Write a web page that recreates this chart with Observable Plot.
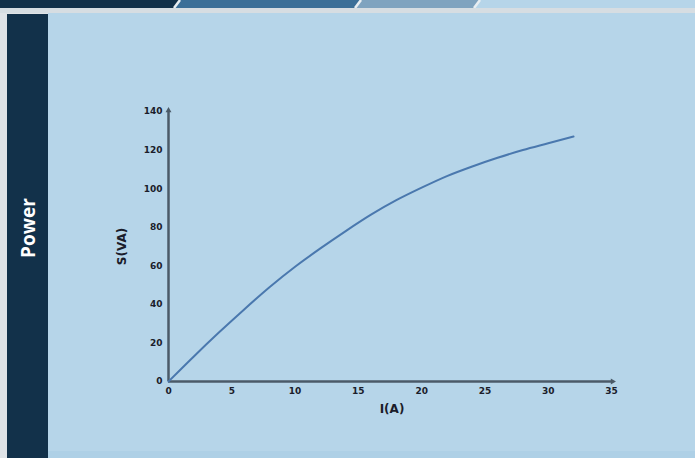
<!DOCTYPE html>
<html>
<head>
<meta charset="utf-8">
<script src="https://cdn.jsdelivr.net/npm/d3@7"></script>
<script src="https://cdn.jsdelivr.net/npm/@observablehq/plot@0.6"></script>
<style>
  html, body { margin: 0; padding: 0; }
  body { width: 695px; height: 458px; overflow: hidden; position: relative; background: #dfe3e7; font-family: "Open Sans", sans-serif; }
  #banner { position: absolute; left: 0; top: 0; width: 695px; height: 8px; }
  #strip { position: absolute; left: 0; top: 8px; width: 695px; height: 5px; background: #d6dde2; }
  #panel { position: absolute; left: 48px; top: 13px; width: 647px; height: 445px; background: #b6d5e9; }
  #bottomband { position: absolute; left: 48px; top: 451px; width: 647px; height: 7px; background: #aed0e6; }
  #sidebar { position: absolute; left: 7px; top: 14px; width: 41px; height: 444px; background: #12314a; }
  #sidebar span { position: absolute; left: 50%; top: 214px; transform: translate(-50%, -50%) rotate(-90deg); color: #ffffff; font: 700 19px "Open Sans", sans-serif; white-space: nowrap; }
  #chart { position: absolute; left: 0; top: 0; }
</style>
</head>
<body>
<svg id="banner" width="695" height="8">
  <rect x="0" y="0" width="695" height="8" fill="#b6d5e9"/>
  <polygon points="0,0 480,0 474,8 0,8" fill="#7fa3bf"/>
  <polygon points="0,0 361,0 355,8 0,8" fill="#3b6f98"/>
  <polygon points="0,0 180,0 174,8 0,8" fill="#12314a"/>
  <line x1="180" y1="0" x2="174" y2="8" stroke="#e8eef2" stroke-width="2.5"/>
  <line x1="361" y1="0" x2="355" y2="8" stroke="#e8eef2" stroke-width="2.5"/>
  <line x1="480" y1="0" x2="474" y2="8" stroke="#e8eef2" stroke-width="2.5"/>
</svg>
<div id="strip"></div>
<div id="panel"></div>
<div id="bottomband"></div>
<div id="sidebar"><span>Power</span></div>
<div id="chart"></div>
<script>
// Data
const currentA = [0, 2, 4, 6, 8, 10, 12, 14, 16, 18, 20, 22, 24, 26, 28, 30, 32];
const powerVA  = [0, 13, 25.5, 37.5, 49, 59.5, 69, 78, 86.5, 94, 100.5, 106.5, 111.5, 116, 120, 123.5, 127];
const xTicks = [0, 5, 10, 15, 20, 25, 30, 35];
const yTicks = [0, 20, 40, 60, 80, 100, 120, 140];
const xLabel = "I(A)";
const yLabel = "S(VA)";

const data = currentA.map((x, i) => ({x, y: powerVA[i]}));
const axisColor = "#4b5a68";
const textColor = "#1b1d2b";
const font = "DejaVu Sans, sans-serif";

const chart = Plot.plot({
  width: 695,
  height: 458,
  marginLeft: 168,
  marginRight: 84,
  marginTop: 111,
  marginBottom: 77,
  style: { background: "transparent", fontFamily: font, overflow: "visible" },
  x: { domain: [0, 35] },
  y: { domain: [0, 140] },
  marks: [
    Plot.ruleY([0], { x1: 0, x2: 35, stroke: axisColor, strokeWidth: 2.5 }),
    Plot.ruleX([0], { y1: 0, y2: 140, stroke: axisColor, strokeWidth: 2.5 }),
    Plot.dot([{x: 35, y: 0}], { x: "x", y: "y", symbol: "triangle", rotate: 90, r: 2.2, fill: axisColor, stroke: "none", dx: 1 }),
    Plot.dot([{x: 0, y: 140}], { x: "x", y: "y", symbol: "triangle", r: 2.2, fill: axisColor, stroke: "none", dy: -1 }),
    Plot.axisX({ ticks: xTicks, tickSize: 0, tickPadding: 6, label: null, fontSize: 9, fontWeight: 700, color: textColor }),
    Plot.axisY({ ticks: yTicks, tickSize: 0, tickPadding: 6, label: null, fontSize: 9, fontWeight: 700, color: textColor }),
    Plot.text([xLabel], { frameAnchor: "bottom", dy: 31, dx: 2, fontSize: 12, fontWeight: 700, fill: textColor }),
    Plot.text([yLabel], { frameAnchor: "left", textAnchor: "middle", dx: -46, rotate: -90, fontSize: 12, fontWeight: 700, fill: textColor }),
    Plot.line(data, { x: "x", y: "y", curve: "monotone-x", stroke: "#4a78ae", strokeWidth: 2 })
  ]
});
document.getElementById("chart").appendChild(chart);
</script>
</body>
</html>
